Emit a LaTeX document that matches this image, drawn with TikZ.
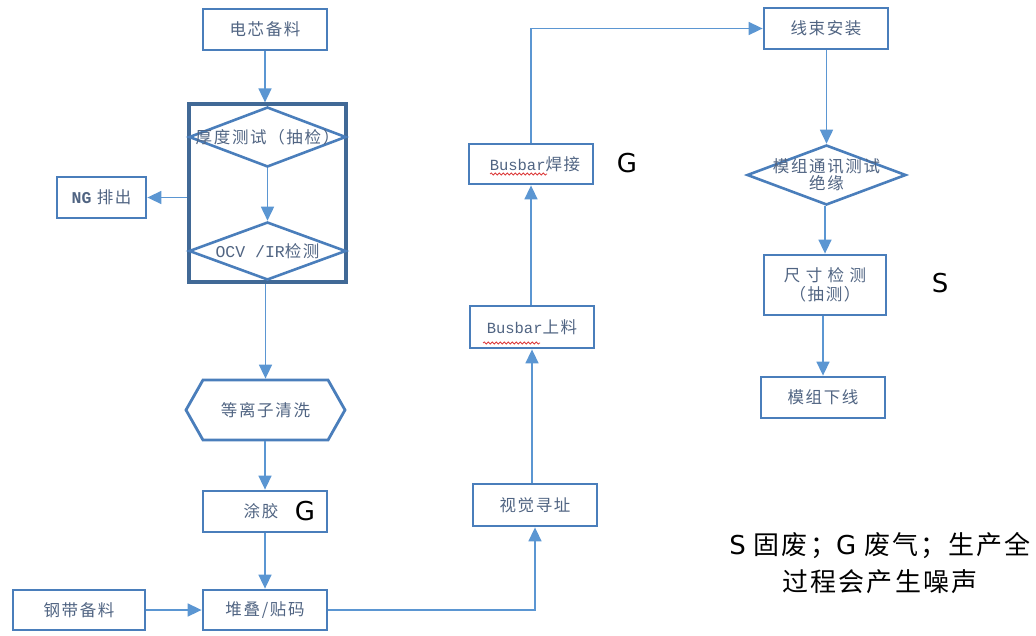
\documentclass[tikz,border=0pt]{standalone}
\usepackage{fontspec}
\newfontfamily\cjk[LetterSpace=10]{Noto Sans CJK SC}
\newfontfamily\cjkL[LetterSpace=8]{Noto Sans CJK SC}
\newfontfamily\lat{Liberation Mono}
\newfontfamily\dv{DejaVu Sans}
\usetikzlibrary{arrows.meta,shapes.geometric,shapes.symbols,decorations.pathmorphing,calc}
\definecolor{boxc}{RGB}{74,126,187}
\definecolor{linec}{RGB}{91,150,210}
\definecolor{framec}{RGB}{65,105,150}
\definecolor{txtc}{RGB}{80,100,130}
\definecolor{squig}{RGB}{220,60,60}
\begin{document}
\begin{tikzpicture}[x=1pt,y=-1pt,
  box/.style={draw=boxc, line width=2.8pt, minimum width=124pt, minimum height=41pt, inner sep=0pt,
    font=\cjk\fontsize{16.5}{19}\selectfont, text=txtc},
  dia/.style={diamond, draw=boxc, line width=2.6pt, minimum width=157pt, minimum height=60pt, inner sep=0pt,
    label={[font=\cjk\fontsize{16.5}{19}\selectfont, text=txtc, align=center]center:#1}},
  arr/.style={draw=linec, line width=1.6pt, -{Triangle[width=13pt,length=14pt]}},
  glabel/.style={font=\dv\fontsize{26}{28}\selectfont, text=black, inner sep=0pt}
]
\useasboundingbox (0,0) rectangle (1036,635);

% left column
\node[box] (a1) at (265,29.5) {电芯备料};
\node[draw=framec, line width=3.2pt, minimum width=157pt, minimum height=178pt, inner sep=0pt] (frame) at (267.5,193) {};
\node[dia={厚度测试（抽检）}] (d1) at (267.5,137) {};
\node[dia={{\lat OCV /IR}检测}, minimum height=58pt] (d2) at (267.5,251) {};
\node[box, minimum width=89pt] (ng) at (101.5,197.5) {{\lat\bfseries NG} 排出};
\node[signal, signal to=west and east, signal pointer angle=121, draw=boxc, line width=2.8pt,
      minimum width=159pt, minimum height=60pt, inner sep=0pt,
      font=\cjk\fontsize{16.5}{19}\selectfont, text=txtc] (hex) at (265.5,410) {等离子清洗};
\node[box] (tj) at (265,511.5) {\hspace*{-4pt}涂胶\hspace*{4pt}};
\node[glabel] (g1) at (305,511) {G};
\node[box, minimum height=40pt] (dd) at (265,610) {堆叠/贴码};
\node[box, minimum width=132pt, minimum height=40pt] (gd) at (79,610) {钢带备料};

% middle column
\node[box, minimum height=42pt] (sj) at (535,505) {视觉寻址};
\node[box, minimum height=42pt] (bs) at (532,327) {{\lat\fontsize{15.5}{18}\selectfont Busbar}上料};
\node[box, minimum height=40pt] (bh) at (531,164) {\hspace*{8pt}{\lat\fontsize{15.5}{18}\selectfont Busbar}焊接};
\node[glabel] (g2) at (627,163) {G};

% right column
\node[box] (xs) at (826,28.5) {线束安装};
\node[dia={模组通讯测试\\[-2pt]绝缘}, minimum width=159pt] (d3) at (826.5,175) {};
\node[box, minimum width=122pt, minimum height=60pt, align=center] (cc) at (825,285) {尺\ 寸\ 检\ 测\\（抽测）};
\node[glabel] (s1) at (940,283) {S};
\node[box] (mx) at (823,397.5) {模组下线};

% legend
\node[align=center, inner sep=0pt, font=\cjkL\fontsize{26}{37}\selectfont, text=black] (leg) at (880,563)
  {{\dv S} 固废；{\dv G} 废气；生产全\\过程会产生噪声};

% spell-check squiggles
\draw[squig, line width=0.8pt, decorate, decoration={snake, segment length=4pt, amplitude=1pt}] (490,174) -- (547,174);
\draw[squig, line width=0.8pt, decorate, decoration={snake, segment length=4pt, amplitude=1pt}] (483,343) -- (540,343);

% connectors
\draw[arr] (a1.south) -- (a1.south |- frame.north);
\draw[arr] (d1.south) -- (d2.north);
\draw[arr] (frame.west |- ng.east) -- (ng.east);
\draw[arr] (hex.north |- frame.south) -- (hex.north);
\draw[arr] (tj.north |- hex.south) -- (tj.north);
\draw[arr] (tj.south) -- (dd.north);
\draw[arr] (gd.east) -- (dd.west);
\draw[arr] (dd.east) -| (sj.south);
\draw[arr] (bs.south |- sj.north) -- (bs.south);
\draw[arr] (bh.south |- bs.north) -- (bh.south);
\draw[arr] (bh.north) |- (xs.west);
\draw[arr] (d3.north |- xs.south) -- (d3.north);
\draw[arr] (cc.north |- d3.south) -- (cc.north);
\draw[arr] (mx.north |- cc.south) -- (mx.north);
\end{tikzpicture}
\end{document}
